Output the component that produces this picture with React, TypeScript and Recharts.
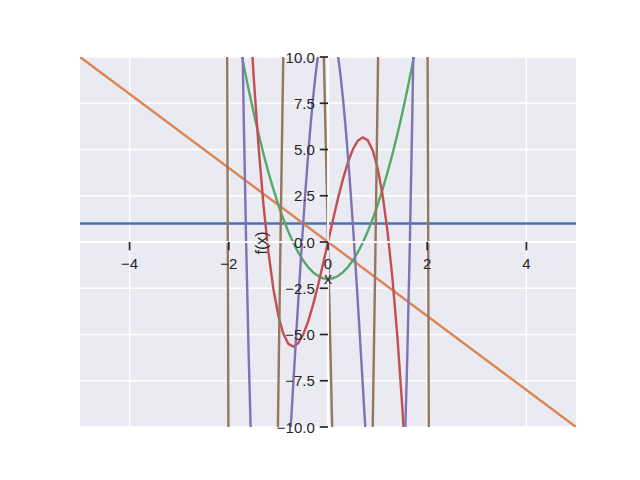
import React from 'react';
import { CartesianGrid, Line, LineChart, ReferenceDot, ReferenceLine, XAxis, YAxis } from 'recharts';

// tick values + labels
const xTicks = [-4, -2, 0, 2, 4];
const xTickLabels = ['−4', '−2', '0', '2', '4'];
const yTicks = [-10, -7.5, -5, -2.5, 0, 2.5, 5, 7.5, 10];
const yTickLabels = ['−10.0', '−7.5', '−5.0', '−2.5', '0.0', '2.5', '5.0', '7.5', '10.0'];

// series (x, f(x))
const blueX = [-5, 5];
const blueY = [1, 1];

const orangeX = [-5, 5];
const orangeY = [10, -10];

const greenX = [-1.8, -1.7, -1.6, -1.5, -1.4, -1.3, -1.2, -1.1, -1, -0.9, -0.8, -0.7, -0.6, -0.5, -0.4, -0.3, -0.2, -0.1, 0,
  0.1, 0.2, 0.3, 0.4, 0.5, 0.6, 0.7, 0.8, 0.9, 1, 1.1, 1.2, 1.3, 1.4, 1.5, 1.6, 1.7, 1.8];
const greenY = [10.96, 9.56, 8.24, 7, 5.84, 4.76, 3.76, 2.84, 2, 1.24, 0.56, -0.04, -0.56, -1, -1.36, -1.64, -1.84, -1.96, -2,
  -1.96, -1.84, -1.64, -1.36, -1, -0.56, -0.04, 0.56, 1.24, 2, 2.84, 3.76, 4.76, 5.84, 7, 8.24, 9.56, 10.96];

const redX = [-1.6, -1.5, -1.4, -1.3, -1.2, -1.1, -1, -0.9, -0.8, -0.7, -0.6, -0.5, -0.4, -0.3, -0.2, -0.1, 0,
  0.1, 0.2, 0.3, 0.4, 0.5, 0.6, 0.7, 0.8, 0.9, 1, 1.1, 1.2, 1.3, 1.4, 1.5, 1.6];
const redY = [13.568, 9, 5.152, 1.976, -0.576, -2.552, -4, -4.968, -5.504, -5.656, -5.472, -5, -4.288, -3.384, -2.336, -1.192, 0,
  1.192, 2.336, 3.384, 4.288, 5, 5.472, 5.656, 5.504, 4.968, 4, 2.552, 0.576, -1.976, -5.152, -9, -13.568];

const purpleX = [-1.75, -1.7, -1.65, -1.6, -1.55, -1.5, -1.4, -1.2, -1, -0.85, -0.8, -0.75, -0.7, -0.65, -0.6, -0.55, -0.5,
  -0.45, -0.4, -0.35, -0.3, -0.25, -0.2, -0.15, -0.1, 0, 0.1, 0.15, 0.2, 0.25, 0.3, 0.35, 0.4, 0.45, 0.5, 0.55, 0.6, 0.65,
  0.7, 0.75, 0.8, 0.85, 1, 1.2, 1.4, 1.5, 1.55, 1.6, 1.65, 1.7, 1.75];
const purpleY = [15.06, 6.914, -0.088, -6.022, -10.968, -15, -20.614, -23.942, -20, -14.328, -12.166, -9.938, -7.678, -5.424,
  -3.206, -1.056, 1, 2.936, 4.73, 6.36, 7.81, 9.063, 10.106, 10.928, 11.522, 12, 11.522, 10.928, 10.106, 9.063, 7.81, 6.36,
  4.73, 2.936, 1, -1.056, -3.206, -5.424, -7.678, -9.938, -12.166, -14.328, -20, -23.942, -20.614, -15, -10.968, -6.022,
  -0.088, 6.914, 15.06];

const brownX = [-2.05, -2.03, -2.01, -2, -1.5, -1.05, -1, -0.95, -0.9, -0.7, -0.5, -0.3, -0.1, -0.05, 0, 0.05, 0.1, 0.3, 0.5,
  0.7, 0.9, 0.95, 1, 1.05, 1.5, 2, 2.01, 2.03, 2.05];
const brownY = [26.14, 8.27, -8.24, -16, -117, -18.38, -8, 1.58, 10.26, 34.5, 41, 31.76, 11.84, 5.98, 0, -5.98, -11.84, -31.76,
  -41, -34.5, -10.26, -1.58, 8, 18.38, 117, 16, 8.24, -8.27, -26.14];

const pts = (xs: number[], ys: number[]) => xs.map((x, i) => ({ x, y: ys[i] }));

const series = [
  { name: 'blue', data: pts(blueX, blueY), color: '#4C72B0' },
  { name: 'orange', data: pts(orangeX, orangeY), color: '#DD8452' },
  { name: 'green', data: pts(greenX, greenY), color: '#55A868' },
  { name: 'red', data: pts(redX, redY), color: '#C44E52' },
  { name: 'purple', data: pts(purpleX, purpleY), color: '#8172B3' },
  { name: 'brown', data: pts(brownX, brownY), color: '#937860' },
];

const FONT = '"Liberation Sans", Arial, sans-serif';
const INK = '#262626';
const TICK_LEN = 8.3;

const XTickMark = ({ cx, cy, text }: any) => (
  <g>
    <line x1={cx} y1={cy} x2={cx} y2={cy + TICK_LEN} stroke={INK} strokeWidth={1.7} />
    <text x={cx} y={cy + 26.5} textAnchor="middle" fontFamily={FONT} fontSize={15} fill={INK}>{text}</text>
  </g>
);

const YTickMark = ({ cx, cy, text }: any) => (
  <g>
    <line x1={cx - TICK_LEN} y1={cy} x2={cx} y2={cy} stroke={INK} strokeWidth={1.7} />
    <text x={cx - 13.2} y={cy} textAnchor="end" dominantBaseline="central" fontFamily={FONT} fontSize={15} fill={INK}>{text}</text>
  </g>
);

const AxisLabels = ({ cx, cy }: any) => (
  <g fontFamily={FONT} fontSize={16} fill={INK}>
    <text x={cx} y={cy + 41.5} textAnchor="middle">x</text>
    <text x={cx - 67} y={cy + 1} textAnchor="middle" dominantBaseline="central" transform={`rotate(-90 ${cx - 67} ${cy + 1})`}>f(x)</text>
  </g>
);

export default function App() {
  return (
    <div style={{ position: 'absolute', left: 0, top: 0, background: '#fff' }}>
      <LineChart width={640} height={480} margin={{ top: 57, right: 64, bottom: 53, left: 80 }}>
        <CartesianGrid
          fill="#EAEAF2"
          stroke="#ffffff"
          strokeWidth={1.4}
          horizontalValues={yTicks}
          verticalValues={xTicks}
        />
        <XAxis dataKey="x" type="number" domain={[-5, 5]} ticks={xTicks} allowDataOverflow hide />
        <YAxis type="number" domain={[-10, 10]} ticks={yTicks} allowDataOverflow hide />
        {series.map((s) => (
          <Line
            key={s.name}
            data={s.data}
            dataKey="y"
            type="linear"
            stroke={s.color}
            strokeWidth={2.4}
            dot={false}
            activeDot={false}
            isAnimationActive={false}
          />
        ))}
        <ReferenceLine x={0} stroke="#ffffff" strokeWidth={1.75} />
        <ReferenceLine y={0} stroke="#ffffff" strokeWidth={1.75} />
        {xTicks.map((t, i) => (
          <ReferenceDot key={'xt' + t} x={t} y={0} shape={(p: any) => <XTickMark {...p} text={xTickLabels[i]} />} />
        ))}
        {yTicks.map((t, i) => (
          <ReferenceDot key={'yt' + t} x={0} y={t} shape={(p: any) => <YTickMark {...p} text={yTickLabels[i]} />} />
        ))}
        <ReferenceDot x={0} y={0} shape={(p: any) => <AxisLabels {...p} />} />
      </LineChart>
    </div>
  );
}
